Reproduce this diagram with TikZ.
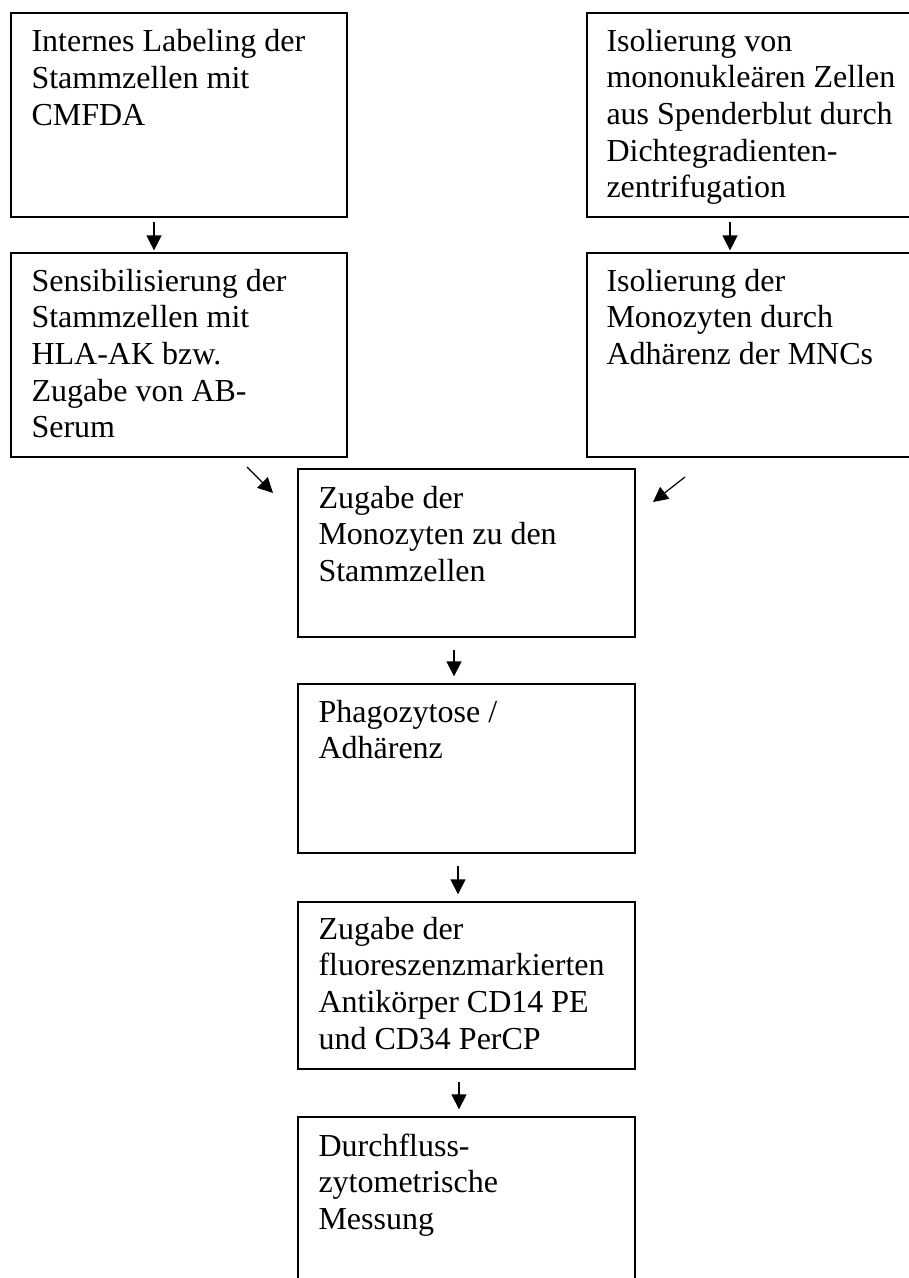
\documentclass[tikz,border=0pt]{standalone}
\usepackage{fontspec}
\setmainfont{Liberation Serif}
\usetikzlibrary{arrows.meta}
\newdimen\pxu \pxu=0.375pt
\tikzset{
  flowbox/.style={draw, line width=0.75pt, inner sep=0pt, anchor=north west, fill=none},
  flowtext/.style={anchor=base west, inner sep=0pt, font=\fontsize{12pt}{13.76pt}\selectfont},
  arr/.style={line width=0.45pt, -{Triangle[length=5.6pt,width=5.6pt]}}
}
\newcommand{\lines}[1]{\parbox[t]{300\pxu}{#1}}
\begin{document}
\begin{tikzpicture}[x=0.375pt, y=-0.375pt]
\useasboundingbox (0,0) rectangle (909,1278);
\clip (0,0) rectangle (909,1278);
% boxes
\node[flowbox, minimum width=336\pxu, minimum height=204\pxu] (b1) at (10,12) {};
\node[flowbox, minimum width=336\pxu, minimum height=204\pxu] (b2) at (586,12) {};
\node[flowbox, minimum width=336\pxu, minimum height=204\pxu] (b3) at (10,252) {};
\node[flowbox, minimum width=336\pxu, minimum height=204\pxu] (b4) at (586,252) {};
\node[flowbox, minimum width=337\pxu, minimum height=168\pxu] (b5) at (297,468) {};
\node[flowbox, minimum width=337\pxu, minimum height=169\pxu] (b6) at (297,683) {};
\node[flowbox, minimum width=337\pxu, minimum height=167\pxu] (b7) at (297,901) {};
\node[flowbox, minimum width=337\pxu, minimum height=200\pxu] (b8) at (297,1116) {};
% texts
\node[flowtext] (t1) at (31,52) {\lines{Internes Labeling der\\Stammzellen mit\\CMFDA}};
\node[flowtext] (t2) at (606,51) {\lines{Isolierung von\\mononukleären Zellen\\aus Spenderblut durch\\Dichtegradienten-\\zentrifugation}};
\node[flowtext] (t3) at (31,291) {\lines{Sensibilisierung der\\Stammzellen mit\\HLA-AK bzw.\\Zugabe von AB-\\Serum}};
\node[flowtext] (t4) at (606,291) {\lines{Isolierung der\\Monozyten durch\\Adhärenz der MNCs}};
\node[flowtext] (t5) at (318,508) {\lines{Zugabe der\\Monozyten zu den\\Stammzellen}};
\node[flowtext] (t6) at (318,722) {\lines{Phagozytose /\\Adhärenz}};
\node[flowtext] (t7) at (318,939) {\lines{Zugabe der\\fluoreszenzmarkierten\\Antikörper CD14 PE\\und CD34 PerCP}};
\node[flowtext] (t8) at (318,1156) {\lines{Durchfluss-\\zytometrische\\Messung}};
% arrow x positions
\coordinate (x1) at (154,0);
\coordinate (x2) at (730,0);
\coordinate (x5) at (454,0);
\coordinate (x6) at (458,0);
\coordinate (x7) at (459,0);
\draw[arr, shorten <=1.5pt, shorten >=0.6pt] (b1.south -| x1) -- (b3.north -| x1);
\draw[arr, shorten <=1.5pt, shorten >=0.6pt] (b2.south -| x2) -- (b4.north -| x2);
\draw[arr, shorten <=4.5pt, shorten >=2.5pt] (b5.south -| x5) -- (b6.north -| x5);
\draw[arr, shorten <=4.5pt, shorten >=2.5pt] (b6.south -| x6) -- (b7.north -| x6);
\draw[arr, shorten <=4.5pt, shorten >=2.5pt] (b7.south -| x7) -- (b8.north -| x7);
% diagonal arrows
\coordinate (d1s) at (247,467);
\coordinate (d1e) at (273,493);
\coordinate (d2s) at (685,477);
\coordinate (d2e) at (653,502);
\draw[arr] (d1s) -- (d1e);
\draw[arr] (d2s) -- (d2e);
\end{tikzpicture}
\end{document}
